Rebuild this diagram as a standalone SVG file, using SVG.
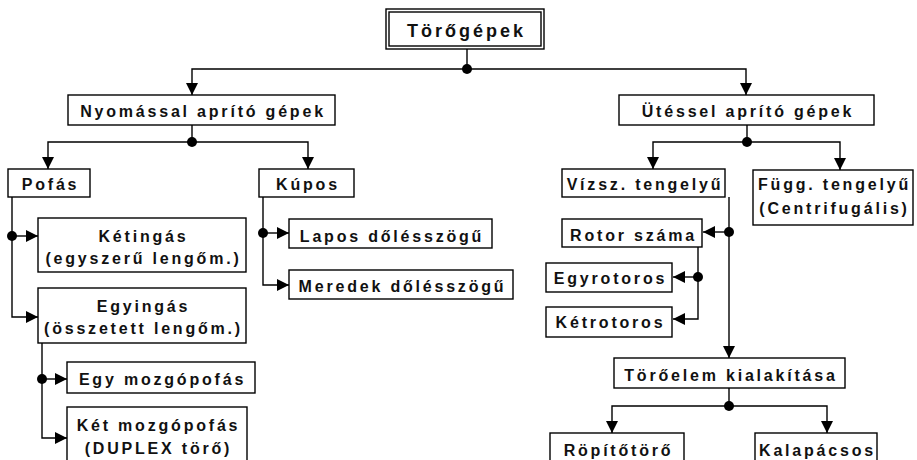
<svg xmlns="http://www.w3.org/2000/svg" width="917" height="460" viewBox="0 0 917 460">
<defs>
<style>
.box{fill:#fff;stroke:#000;stroke-width:1.4}
.t{font-family:"Liberation Sans",Arial,Helvetica,sans-serif;font-weight:bold;font-size:16px;letter-spacing:2.8px;fill:#111;text-anchor:middle}
.title{font-size:18px;letter-spacing:3px}
.c{fill:none;stroke:#000;stroke-width:1.4}
.arr{marker-end:url(#ah)}
.dot{fill:#000}
</style>
<marker id="ah" viewBox="0 0 12 12" refX="12" refY="6" markerWidth="12" markerHeight="12" markerUnits="userSpaceOnUse" orient="auto">
<path d="M0,0 L12,6 L0,12 z" fill="#000"/>
</marker>
</defs>
<rect width="917" height="460" fill="#fff"/>
<g id="connectors">
<path class="c" d="M467,49 V69"/>
<path class="c arr" d="M467,69 H192 V95"/>
<path class="c arr" d="M467,69 H746 V95"/>
<circle class="dot" cx="467" cy="69" r="5"/>
<path class="c" d="M192,125 V142"/>
<path class="c arr" d="M192,142 H48 V169"/>
<path class="c arr" d="M192,142 H308 V169"/>
<circle class="dot" cx="192" cy="142" r="5"/>
<path class="c arr" d="M12,197 V317 H38"/>
<path class="c arr" d="M12,236 H38"/>
<circle class="dot" cx="12" cy="236" r="5"/>
<path class="c arr" d="M42,343 V438 H67"/>
<path class="c arr" d="M42,379 H67"/>
<circle class="dot" cx="42" cy="379" r="5"/>
<path class="c arr" d="M263,197 V285 H289"/>
<path class="c arr" d="M263,233 H289"/>
<circle class="dot" cx="263" cy="233" r="5"/>
<path class="c" d="M747,125 V142"/>
<path class="c arr" d="M747,142 H653 V169"/>
<path class="c arr" d="M747,142 H840 V170"/>
<circle class="dot" cx="747" cy="142" r="5"/>
<path class="c arr" d="M729,197 V358"/>
<path class="c arr" d="M729,232 H703"/>
<circle class="dot" cx="729" cy="232" r="5"/>
<path class="c arr" d="M698,247 V319 H673"/>
<path class="c arr" d="M698,277 H673"/>
<circle class="dot" cx="698" cy="277" r="5"/>
<path class="c" d="M729,388 V406"/>
<path class="c arr" d="M729,406 H612 V433"/>
<path class="c arr" d="M729,406 H827 V433"/>
<circle class="dot" cx="729" cy="406" r="5"/>
</g>
<g id="n-torogepek">
<rect class="box" x="386" y="9" width="158" height="40"/>
<rect class="box" x="389" y="12" width="152" height="34"/>
<text class="t title" x="466.5" y="37">Törőgépek</text>
</g>
<g id="n-nyomassal">
<rect class="box" x="68" y="95" width="267" height="30"/>
<text class="t" x="203" y="117">Nyomással aprító gépek</text>
</g>
<g id="n-utessel">
<rect class="box" x="619" y="95" width="255" height="30"/>
<text class="t" x="748" y="117">Ütéssel aprító gépek</text>
</g>
<g id="n-pofas">
<rect class="box" x="8" y="169" width="82" height="28"/>
<text class="t" x="50.5" y="190">Pofás</text>
</g>
<g id="n-kupos">
<rect class="box" x="259" y="169" width="95" height="28"/>
<text class="t" x="308" y="190">Kúpos</text>
</g>
<g id="n-ketingas">
<rect class="box" x="38" y="218" width="208" height="54"/>
<text class="t" x="143.5" y="242">Kétingás</text>
<text class="t" x="143.5" y="264">(egyszerű lengőm.)</text>
</g>
<g id="n-egyingas">
<rect class="box" x="38" y="288" width="208" height="55"/>
<text class="t" x="143.5" y="312">Egyingás</text>
<text class="t" x="143.5" y="334">(összetett lengőm.)</text>
</g>
<g id="n-egymozgo">
<rect class="box" x="67" y="362" width="188" height="31"/>
<text class="t" x="162.5" y="385">Egy mozgópofás</text>
</g>
<g id="n-ketmozgo">
<rect class="box" x="67" y="407" width="180" height="60"/>
<text class="t" x="158.5" y="431">Két mozgópofás</text>
<text class="t" x="158.5" y="454">(DUPLEX törő)</text>
</g>
<g id="n-lapos">
<rect class="box" x="289" y="219" width="203" height="29"/>
<text class="t" x="392" y="242">Lapos dőlésszögű</text>
</g>
<g id="n-meredek">
<rect class="box" x="289" y="270" width="224" height="29"/>
<text class="t" x="402.5" y="292">Meredek dőlésszögű</text>
</g>
<g id="n-vizsz">
<rect class="box" x="562" y="169" width="163" height="28"/>
<text class="t" x="645" y="190">Vízsz. tengelyű</text>
</g>
<g id="n-fugg">
<rect class="box" x="753" y="170" width="160" height="55"/>
<text class="t" x="834.5" y="190">Függ. tengelyű</text>
<text class="t" x="834.5" y="214">(Centrifugális)</text>
</g>
<g id="n-rotor">
<rect class="box" x="562" y="219" width="140" height="28"/>
<text class="t" x="633.5" y="241">Rotor száma</text>
</g>
<g id="n-egyrotoros">
<rect class="box" x="546" y="263" width="126" height="29"/>
<text class="t" x="610.5" y="284">Egyrotoros</text>
</g>
<g id="n-ketrotoros">
<rect class="box" x="546" y="307" width="126" height="30"/>
<text class="t" x="610.5" y="328">Kétrotoros</text>
</g>
<g id="n-toroelem">
<rect class="box" x="614" y="358" width="231" height="30"/>
<text class="t" x="731" y="381">Törőelem kialakítása</text>
</g>
<g id="n-ropito">
<rect class="box" x="550" y="433" width="134" height="40"/>
<text class="t" x="618.5" y="456">Röpítőtörő</text>
</g>
<g id="n-kalapacsos">
<rect class="box" x="755" y="433" width="122" height="40"/>
<text class="t" x="817.5" y="456">Kalapácsos</text>
</g>
</svg>
